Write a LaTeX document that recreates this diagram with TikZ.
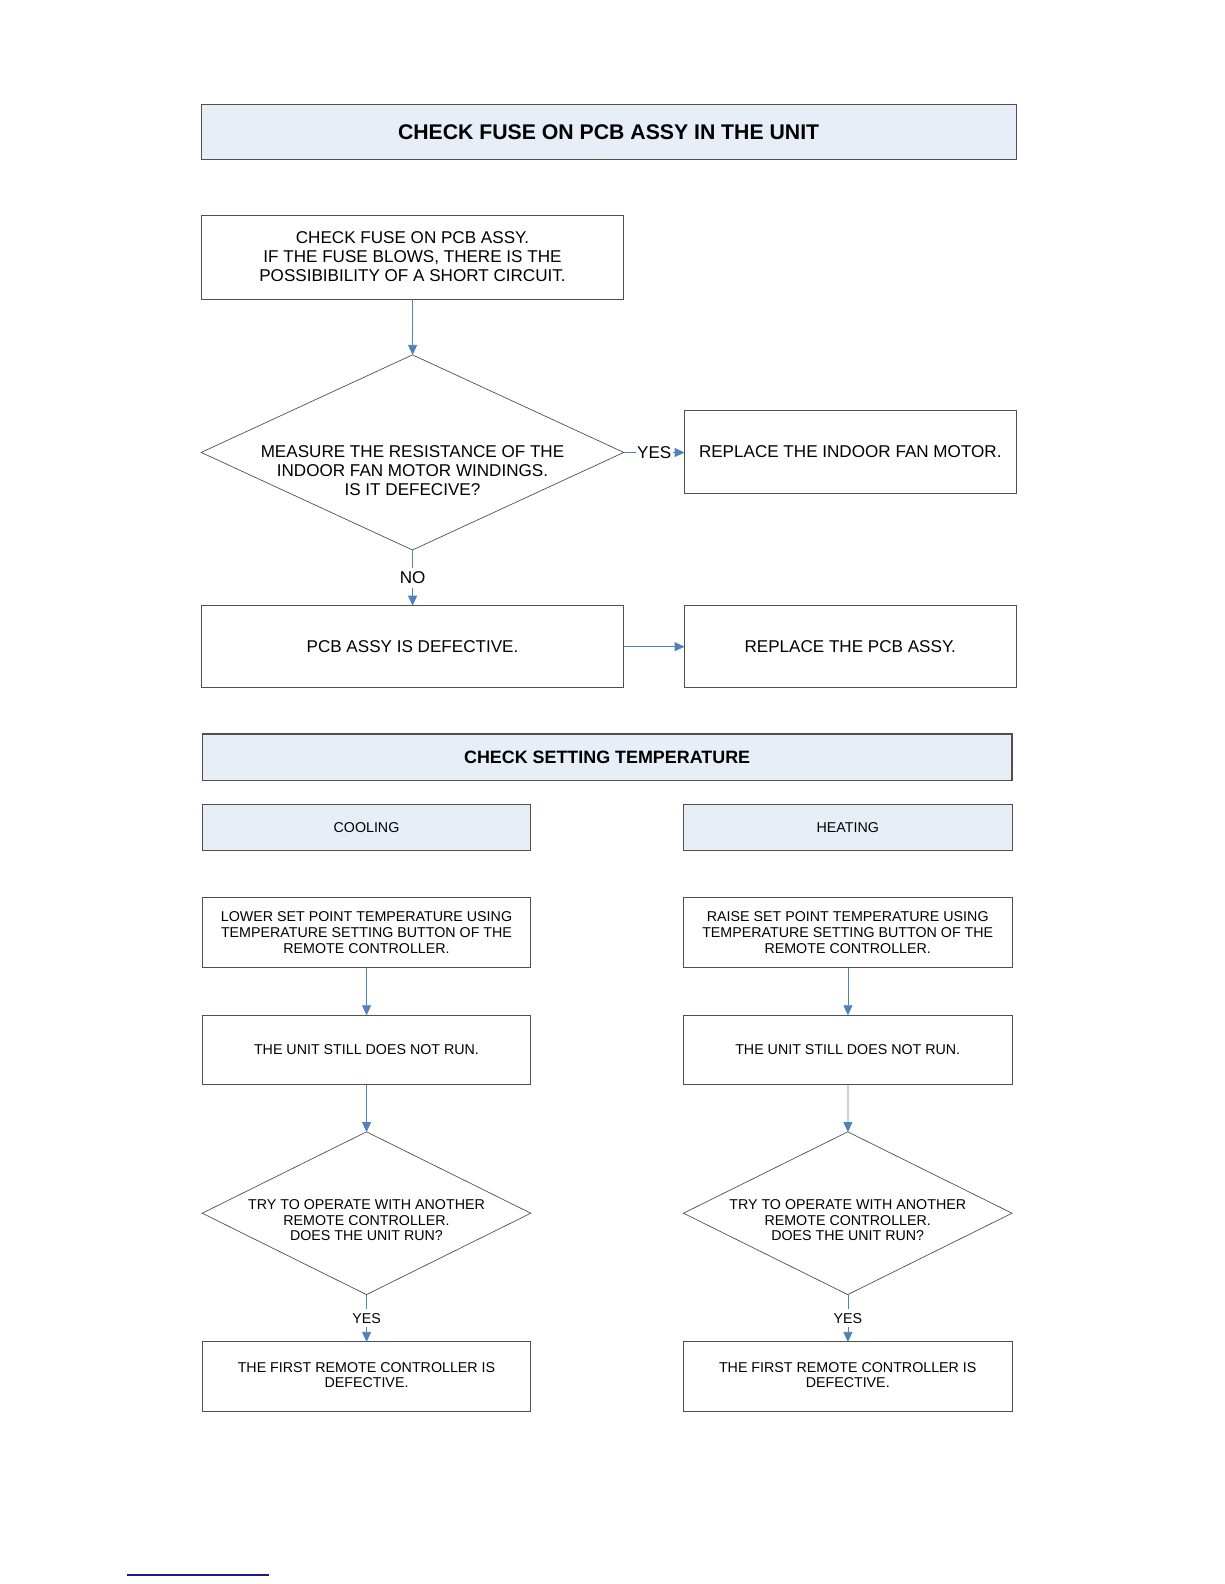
\documentclass[tikz,border=0pt]{standalone}
\usepackage{fontspec}
\setmainfont{Liberation Sans}
\usetikzlibrary{arrows.meta,shapes.geometric}
\definecolor{hdrfill}{HTML}{E8EEF8}
\definecolor{arrowblue}{HTML}{4F81BD}
\definecolor{boxline}{HTML}{505050}
\definecolor{navy}{HTML}{1A1A8C}
\begin{document}
\begin{tikzpicture}[x=1pt,y=-1pt,
  every node/.style={inner sep=0pt, outer sep=0pt, align=center},
  hdr/.style={draw=boxline, line width=1.1pt, fill=hdrfill, anchor=north west},
  bigbox/.style={draw=boxline, line width=0.8pt, fill=white, anchor=north west},
  smallbox/.style={draw=boxline, line width=0.8pt, fill=white, anchor=north west},
  bigtxt/.style={font=\fontsize{16.9}{18.8}\selectfont},
  smalltxt/.style={font=\fontsize{14.1}{15.4}\selectfont},
  dia/.style={draw=boxline, line width=0.7pt, diamond, inner sep=0pt},
  arr/.style={draw=arrowblue, line width=0.8pt, -{Triangle[length=10pt,width=9pt]}},
  lbl/.style={fill=white, inner xsep=1.5pt, inner ysep=4pt},
]
\useasboundingbox (0,0) rectangle (1224,1584);

% footer rule
\coordinate (fl) at (127,1575);
\coordinate (fr) at (269,1575);
\draw[navy, line width=1.3pt] (fl) -- (fr);

\begin{scope}[scale=1.011, transform shape]
% ---------- part 1 ----------
\node[hdr, minimum width=806pt, minimum height=55pt] (t1) at (199,103) {};
\node[font=\fontsize{21}{24}\selectfont\bfseries] (t1txt) at (602,130.5) {CHECK FUSE ON PCB ASSY IN THE UNIT};

\node[bigbox, minimum width=418pt, minimum height=83pt] (a) at (199,213) {};
\node[bigtxt] (atxt) at (408,253.5) {CHECK FUSE ON PCB ASSY.\\IF THE FUSE BLOWS, THERE IS THE\\POSSIBIBILITY OF A SHORT CIRCUIT.};

\node[dia, minimum width=418pt, minimum height=193pt] (d1) at (408,447.5) {};
\node[bigtxt] (d1txt) at (408,465.5) {MEASURE THE RESISTANCE OF THE\\INDOOR FAN MOTOR WINDINGS.\\IS IT DEFECIVE?};

\node[bigbox, minimum width=328pt, minimum height=82pt] (r1) at (677,406) {};
\node[bigtxt] (r1txt) at (841,446.5) {REPLACE THE INDOOR FAN MOTOR.};

\node[bigbox, minimum width=418pt, minimum height=81pt] (p) at (199,599) {};
\node[bigtxt] (ptxt) at (408,639.5) {PCB ASSY IS DEFECTIVE.};

\node[bigbox, minimum width=328pt, minimum height=81pt] (r2) at (677,599) {};
\node[bigtxt] (r2txt) at (841,639.5) {REPLACE THE PCB ASSY.};

\draw[arr] (a.south -| d1.north) -- (d1.north);
\draw[arr] (d1.east) -- node[lbl, bigtxt] (yes1) {YES} (d1.east -| r1.west);
\draw[arr] (d1.south) -- node[lbl, bigtxt] (no1) {NO} (d1.south |- p.north);
\draw[arr] (p.east) -- (r2.west);

% ---------- part 2 ----------
\node[hdr, minimum width=801pt, minimum height=46pt] (t2) at (200,726) {};
\node[font=\fontsize{17.7}{20}\selectfont\bfseries] (t2txt) at (600.5,749) {CHECK SETTING TEMPERATURE};

\foreach \side/\x/\lab/\vrb in {l/200/COOLING/LOWER, r/676/HEATING/RAISE} {
  \node[hdr, line width=1pt, minimum width=325pt, minimum height=45pt, font=\fontsize{14.1}{16}\selectfont] (m\side) at (\x,796) {\lab};
  \node[smallbox, smalltxt, minimum width=325pt, minimum height=69pt] (b1\side) at (\x,888) {\vrb\ SET POINT TEMPERATURE USING\\TEMPERATURE SETTING BUTTON OF THE\\REMOTE CONTROLLER.};
  \node[smallbox, smalltxt, minimum width=325pt, minimum height=69pt] (b2\side) at (\x,1004) {THE UNIT STILL DOES NOT RUN.};
  \node[dia, minimum width=325pt, minimum height=161pt] (d\side) at ([xshift=162.5pt]\x,1200) {};
  \node[smalltxt] (dt\side) at ([xshift=162.5pt]\x,1207) {TRY TO OPERATE WITH ANOTHER\\REMOTE CONTROLLER.\\DOES THE UNIT RUN?};
  \node[smallbox, minimum width=325pt, minimum height=69pt] (b3\side) at (\x,1327) {};
  \node[smalltxt] (b3t\side) at ([xshift=162.5pt]\x,1360) {THE FIRST REMOTE CONTROLLER IS\\DEFECTIVE.};
  \draw[arr] (b1\side.south) -- (b2\side.north);
  \draw[arr] (b2\side.south) -- (d\side.north);
  \draw[arr] (d\side.south) -- node[lbl, smalltxt] (y\side) {YES} (b3\side.north);
}
\end{scope}
\end{tikzpicture}
\end{document}
